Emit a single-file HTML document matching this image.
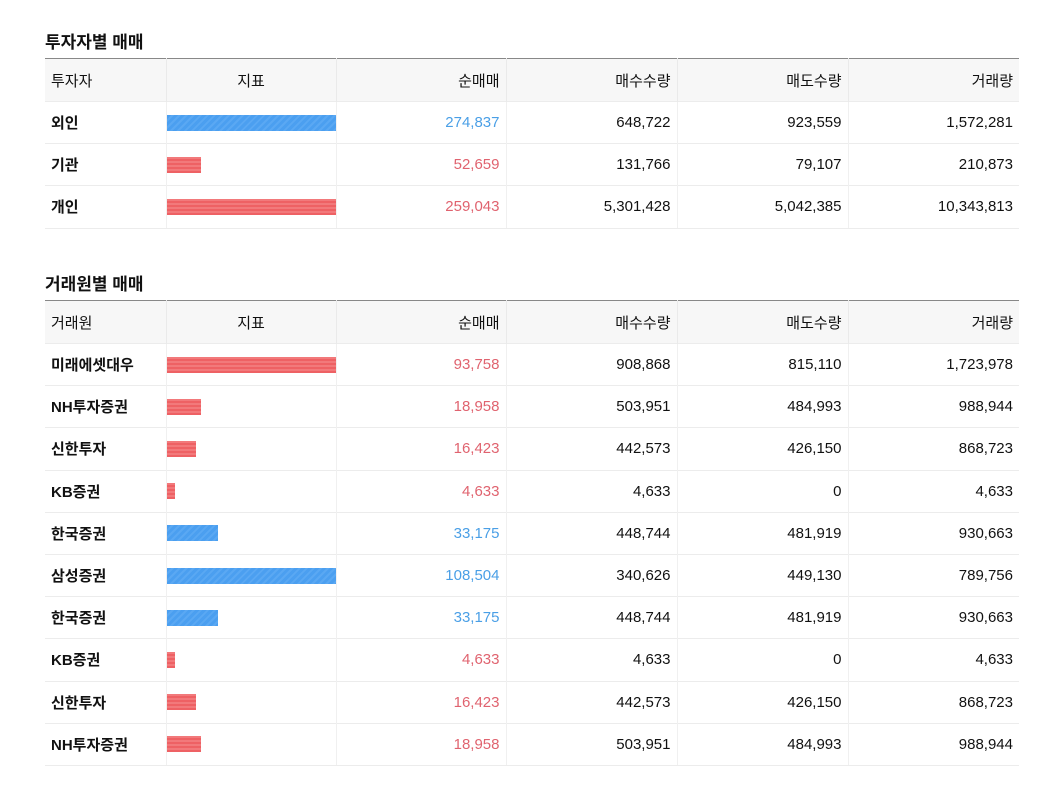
<!DOCTYPE html>
<html><head><meta charset="utf-8">
<style>
body{margin:0;background:#fff;width:1042px;height:812px;overflow:hidden;font-family:"Liberation Sans","Noto Sans CJK KR",sans-serif;color:#111;}
.sec{position:absolute;left:45px;width:974px;}
.title{position:absolute;left:0;font-size:17px;font-weight:bold;}
table{position:absolute;left:0;width:974px;border-collapse:collapse;table-layout:fixed;font-size:15px;}
thead tr{background:#f7f7f7;}
th{font-weight:normal;height:42px;padding:0 6px;border-left:1px solid #eaeaea;}
td{height:41.2px;padding:0 6px;border-top:1px solid #ececec;border-left:1px solid #f0f0f0;}
tbody tr:last-child td{border-bottom:1px solid #ececec;}
th:first-child,td:first-child{border-left:none;}
table{border-top:1px solid #888;}
.r{text-align:right;}
.name{font-weight:bold;}
.bc{padding:0;}
.bar{height:16px;}
.pos{background:repeating-linear-gradient(135deg,#4b9ff0 0 3px,#5aa8f3 3px 5px);}
.neg{background:repeating-linear-gradient(0deg,#ee6164 0 2px,#f2797b 2px 4px);}
.bt{color:#4a9fe6}.rt{color:#e0636f}
</style></head><body>
<div class="sec" style="top:0">
  <div class="title" style="top:28px">투자자별 매매</div>
  <table style="top:58px">
    <colgroup><col style="width:121px"><col style="width:170px"><col style="width:170px"><col style="width:171px"><col style="width:171px"><col style="width:171px"></colgroup>
    <thead><tr><th style="text-align:left">투자자</th><th>지표</th><th class="r">순매매</th><th class="r">매수수량</th><th class="r">매도수량</th><th class="r">거래량</th></tr></thead>
    <tbody id="t1"></tbody>
  </table>
</div>
<div class="sec" style="top:0">
  <div class="title" style="top:270px">거래원별 매매</div>
  <table style="top:300px">
    <colgroup><col style="width:121px"><col style="width:170px"><col style="width:170px"><col style="width:171px"><col style="width:171px"><col style="width:171px"></colgroup>
    <thead><tr><th style="text-align:left">거래원</th><th>지표</th><th class="r">순매매</th><th class="r">매수수량</th><th class="r">매도수량</th><th class="r">거래량</th></tr></thead>
    <tbody id="t2"></tbody>
  </table>
</div>
<script>
const investors=["외인","기관","개인"];
const invNet=[274837,-52659,-259043];
const invBuy=[648722,131766,5301428];
const invSell=[923559,79107,5042385];
const invVol=[1572281,210873,10343813];
const brokers=["미래에셋대우","NH투자증권","신한투자","KB증권","한국증권","삼성증권","한국증권","KB증권","신한투자","NH투자증권"];
const brkNet=[-93758,-18958,-16423,-4633,33175,108504,33175,-4633,-16423,-18958];
const brkBuy=[908868,503951,442573,4633,448744,340626,448744,4633,442573,503951];
const brkSell=[815110,484993,426150,0,481919,449130,481919,0,426150,484993];
const brkVol=[1723978,988944,868723,4633,930663,789756,930663,4633,868723,988944];
const fmt=v=>Math.abs(v).toLocaleString('en-US');
function build(id,names,net,buy,sell,vol){
  const tb=document.getElementById(id);
  const maxPos=Math.max(1,...net.filter(v=>v>0));
  const maxNeg=Math.max(1,...net.filter(v=>v<0).map(v=>-v));
  names.forEach((n,i)=>{
    const tr=document.createElement('tr');
    
    
    const pos=net[i]>0;
    const w=Math.abs(net[i])/(pos?maxPos:maxNeg)*170;
    tr.innerHTML='<td class="name">'+n+'</td><td class="bc"><div class="bar '+(pos?'pos':'neg')+'" style="width:'+w+'px"></div></td><td class="r '+(pos?'bt':'rt')+'">'+fmt(net[i])+'</td><td class="r">'+fmt(buy[i])+'</td><td class="r">'+fmt(sell[i])+'</td><td class="r">'+fmt(vol[i])+'</td>';
    const bar=tr.querySelector('.bar');
    
    
    tb.appendChild(tr);
  });
}
build('t1',investors,invNet,invBuy,invSell,invVol);
build('t2',brokers,brkNet,brkBuy,brkSell,brkVol);
</script>
</body></html>
